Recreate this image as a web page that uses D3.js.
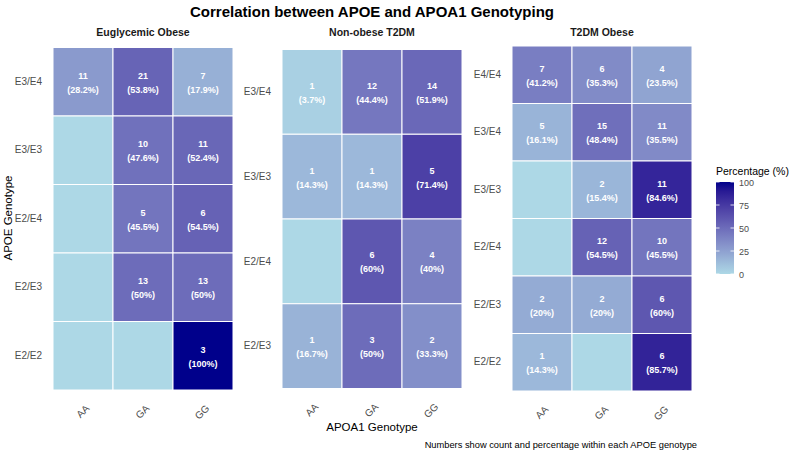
<!DOCTYPE html>
<html>
<head>
<meta charset="utf-8">
<script src="https://cdn.jsdelivr.net/npm/d3@7"></script>
<style>
  body { margin: 0; background: #fff; }
  svg { font-family: "Liberation Sans", Arial, sans-serif; }
</style>
</head>
<body>
<div id="chart"></div>
<script>
// chart data
const groups = ["Euglycemic Obese", "Non-obese T2DM", "T2DM Obese"];
const apoa1 = ["AA", "GA", "GG"];

// APOE genotypes per group, listed top to bottom
const apoeEuglycemic = ["E3/E4", "E3/E3", "E2/E4", "E2/E3", "E2/E2"];
const apoeNonObese = ["E3/E4", "E3/E3", "E2/E4", "E2/E3"];
const apoeT2dmObese = ["E4/E4", "E3/E4", "E3/E3", "E2/E4", "E2/E3", "E2/E2"];

// counts [AA, GA, GG] per APOE row
const countEuglycemic = [[11, 21, 7], [0, 10, 11], [0, 5, 6], [0, 13, 13], [0, 0, 3]];
const countNonObese = [[1, 12, 14], [1, 1, 5], [0, 6, 4], [1, 3, 2]];
const countT2dmObese = [[7, 6, 4], [5, 15, 11], [0, 2, 11], [0, 12, 10], [2, 2, 6], [1, 0, 6]];

// percentage within each APOE genotype
const pctEuglycemic = [[28.2, 53.8, 17.9], [0, 47.6, 52.4], [0, 45.5, 54.5], [0, 50, 50], [0, 0, 100]];
const pctNonObese = [[3.7, 44.4, 51.9], [14.3, 14.3, 71.4], [0, 60, 40], [16.7, 50, 33.3]];
const pctT2dmObese = [[41.2, 35.3, 23.5], [16.1, 48.4, 35.5], [0, 15.4, 84.6], [0, 54.5, 45.5], [20, 20, 60], [14.3, 0, 85.7]];

const legendTicks = [0, 25, 50, 75, 100];

// layout
const WIDTH = 797, HEIGHT = 452;
const PANELS = [
  {x0: 53, x1: 233, y0: 47.5, y1: 390},
  {x0: 282, x1: 462, y0: 49.5, y1: 388.5},
  {x0: 512, x1: 692, y0: 46, y1: 391}
];
const rowSets = [apoeEuglycemic, apoeNonObese, apoeT2dmObese];
const countSets = [countEuglycemic, countNonObese, countT2dmObese];
const pctSets = [pctEuglycemic, pctNonObese, pctT2dmObese];

const svg = d3.select('#chart').append('svg')
  .attr('width', WIDTH)
  .attr('height', HEIGHT);

const color = d3.scaleLinear()
  .domain([0, 100])
  .range(['lightblue', 'darkblue'])
  .interpolate(d3.interpolateLab);

// title
svg.append('text')
  .attr('x', 372).attr('y', 17)
  .attr('text-anchor', 'middle')
  .attr('font-size', 15).attr('font-weight', 'bold')
  .attr('fill', '#000')
  .text('Correlation between APOE and APOA1 Genotyping');

groups.forEach(function(g, i) {
  const p = PANELS[i];
  const rows = rowSets[i];

  const x = d3.scaleBand().domain(apoa1).range([p.x0, p.x1]);
  const y = d3.scaleBand().domain(rows).range([p.y0, p.y1]);

  const cells = [];
  rows.forEach(function(r, ri) {
    apoa1.forEach(function(c, ci) {
      cells.push({row: r, col: c, n: countSets[i][ri][ci], pct: pctSets[i][ri][ci]});
    });
  });

  const panel = svg.append('g');

  // strip title
  panel.append('text')
    .attr('x', (p.x0 + p.x1) / 2).attr('y', 36)
    .attr('text-anchor', 'middle')
    .attr('font-size', 10.5).attr('font-weight', 'bold')
    .attr('fill', '#1a1a1a')
    .text(g);

  panel.selectAll('rect.tile')
    .data(cells)
    .join('rect')
    .attr('class', 'tile')
    .attr('x', d => x(d.col))
    .attr('y', d => y(d.row))
    .attr('width', x.bandwidth())
    .attr('height', y.bandwidth())
    .attr('fill', d => color(d.pct))
    .attr('stroke', 'white')
    .attr('stroke-width', 1);

  const labelled = cells.filter(d => d.n > 0);
  const lab = panel.selectAll('text.cell')
    .data(labelled)
    .join('text')
    .attr('class', 'cell')
    .attr('text-anchor', 'middle')
    .attr('font-size', 9).attr('font-weight', 'bold')
    .attr('fill', 'white');
  lab.append('tspan')
    .attr('x', d => x(d.col) + x.bandwidth() / 2)
    .attr('y', d => y(d.row) + y.bandwidth() / 2 - 3)
    .text(d => d.n);
  lab.append('tspan')
    .attr('x', d => x(d.col) + x.bandwidth() / 2)
    .attr('y', d => y(d.row) + y.bandwidth() / 2 + 11)
    .text(d => '(' + d.pct + '%)');

  // y axis
  const yAxis = panel.append('g')
    .attr('transform', `translate(${p.x0 - 2},0)`)
    .call(d3.axisLeft(y).tickSize(0).tickPadding(9));
  yAxis.select('.domain').remove();
  yAxis.selectAll('text')
    .attr('font-size', 10).attr('fill', '#4d4d4d')
    .attr('font-family', '"Liberation Sans", Arial, sans-serif');

  // x axis, rotated labels
  const xAxis = panel.append('g')
    .attr('transform', `translate(0,${p.y1})`)
    .call(d3.axisBottom(x).tickSize(0).tickPadding(0));
  xAxis.select('.domain').remove();
  xAxis.selectAll('text')
    .attr('font-size', 10).attr('fill', '#4d4d4d')
    .attr('font-family', '"Liberation Sans", Arial, sans-serif')
    .attr('text-anchor', 'end')
    .attr('dy', 0)
    .attr('transform', 'translate(7,19) rotate(-45)');
});

// axis titles
svg.append('text')
  .attr('transform', 'translate(12,218) rotate(-90)')
  .attr('text-anchor', 'middle')
  .attr('font-size', 11.5).attr('fill', '#000')
  .text('APOE Genotype');

svg.append('text')
  .attr('x', 372).attr('y', 431)
  .attr('text-anchor', 'middle')
  .attr('font-size', 11.5).attr('fill', '#000')
  .text('APOA1 Genotype');

// caption
svg.append('text')
  .attr('x', 697).attr('y', 448)
  .attr('text-anchor', 'end')
  .attr('font-size', 9.3).attr('fill', '#000')
  .text('Numbers show count and percentage within each APOE genotype');

// legend
const LEG = {x: 716, y0: 182, y1: 274, w: 18};
const legend = svg.append('g');
legend.append('text')
  .attr('x', LEG.x).attr('y', 175)
  .attr('font-size', 10.5).attr('fill', '#000')
  .text('Percentage (%)');

const defs = svg.append('defs');
const grad = defs.append('linearGradient')
  .attr('id', 'leggrad')
  .attr('x1', 0).attr('x2', 0).attr('y1', 1).attr('y2', 0);
d3.range(0, 101, 10).forEach(function(v) {
  grad.append('stop').attr('offset', v + '%').attr('stop-color', color(v));
});
legend.append('rect')
  .attr('x', LEG.x).attr('y', LEG.y0)
  .attr('width', LEG.w).attr('height', LEG.y1 - LEG.y0)
  .attr('fill', 'url(#leggrad)');

const ly = d3.scaleLinear().domain([0, 100]).range([LEG.y1, LEG.y0]);
legendTicks.forEach(function(t) {
  legend.append('line')
    .attr('x1', LEG.x).attr('x2', LEG.x + 3.5)
    .attr('y1', ly(t)).attr('y2', ly(t))
    .attr('stroke', 'white').attr('stroke-width', 0.8);
  legend.append('line')
    .attr('x1', LEG.x + LEG.w - 3.5).attr('x2', LEG.x + LEG.w)
    .attr('y1', ly(t)).attr('y2', ly(t))
    .attr('stroke', 'white').attr('stroke-width', 0.8);
  legend.append('text')
    .attr('x', LEG.x + LEG.w + 5).attr('y', ly(t) + 3.5)
    .attr('font-size', 9).attr('fill', '#4d4d4d')
    .text(t);
});
</script>
</body>
</html>
